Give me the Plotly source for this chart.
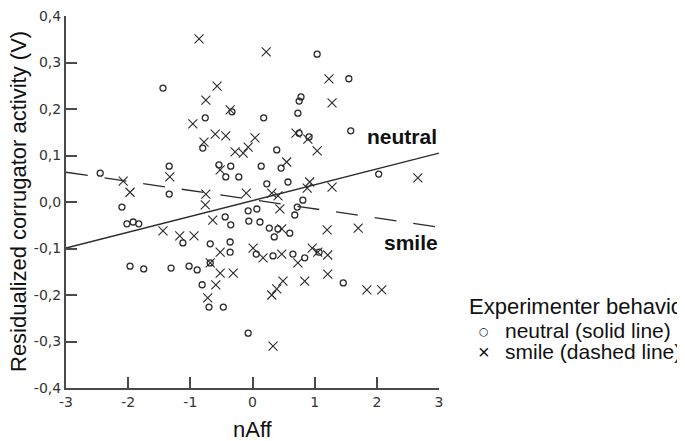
import plotly.graph_objects as go

# ---- data ----
neutral_x = [-2.45, -2.10, -2.02, -1.92, -1.83, -1.97, -1.75, -1.31, -1.02, -0.89,
             -0.81, -0.70, -0.47, -1.12, -0.68, -1.44, -0.76, -0.80, -1.34, -1.34,
             -0.54, -0.35, -0.43, -0.22, 0.14, -0.33, 0.18, 1.04, 1.55, 0.78,
             0.75, 0.73, 1.58, 0.75, 0.91, 0.39, 0.46, 0.23, 0.57, 0.81,
             0.72, 0.68, 2.03, 0.07, -0.07, -0.44, -0.35, -0.06, 0.12, 0.27,
             0.35, 0.41, 0.60, -0.36, -0.36, 0.06, 0.33, 0.65, 0.84, 1.07,
             1.46, -0.07, -0.68]
neutral_y = [0.062, -0.011, -0.047, -0.043, -0.047, -0.138, -0.144, -0.142, -0.138, -0.146,
             -0.178, -0.226, -0.226, -0.088, -0.090, 0.245, 0.181, 0.116, 0.077, 0.017,
             0.080, 0.077, 0.054, 0.054, 0.077, 0.194, 0.181, 0.318, 0.265, 0.226,
             0.217, 0.191, 0.153, 0.148, 0.140, 0.112, 0.073, 0.039, 0.043, 0.004,
             -0.011, -0.028, 0.060, -0.015, -0.019, -0.032, -0.049, -0.041, -0.043, -0.056,
             -0.075, -0.058, -0.067, -0.086, -0.108, -0.112, -0.116, -0.112, -0.120, -0.108,
             -0.174, -0.282, -0.131]

smile_x = [-0.86, 0.22, -0.57, -0.75, -0.36, -0.96, -0.60, -0.43, -0.78, 0.04,
           -0.07, -0.28, -0.15, 1.23, 1.28, 0.70, 0.89, 1.04, 0.55, 0.92,
           1.28, -0.10, 0.31, 0.41, 0.44, -2.08, -1.97, -1.33, -0.52, -0.75,
           -0.76, -0.64, -1.44, -1.17, -0.94, -0.52, 0.01, 0.17, -0.68, -0.52,
           -0.31, -0.59, -0.72, 0.31, 0.39, 0.49, 0.84, 1.21, 1.84, 2.08,
           0.33, 0.73, 1.20, 1.70, 0.47, 0.47, 0.96, 1.05, 1.21, 2.66, 0.88]
smile_y = [0.351, 0.323, 0.249, 0.219, 0.198, 0.168, 0.146, 0.142, 0.129, 0.138,
           0.118, 0.108, 0.105, 0.265, 0.213, 0.148, 0.135, 0.110, 0.086, 0.043,
           0.032, 0.019, 0.019, 0.013, -0.015, 0.045, 0.021, 0.054, 0.069, 0.017,
           -0.006, -0.039, -0.062, -0.073, -0.073, -0.108, -0.099, -0.120, -0.131, -0.153,
           -0.153, -0.178, -0.206, -0.200, -0.187, -0.170, -0.170, -0.155, -0.189, -0.189,
           -0.310, -0.131, -0.060, -0.056, -0.058, -0.112, -0.099, -0.108, -0.114, 0.052, 0.030]

fit_x = [-3, 3]
neutral_fit_y = [-0.099, 0.105]
smile_fit_y = [0.064, -0.054]

x_tickvals = [-3, -2, -1, 0, 1, 2, 3]
x_ticktext = ["-3", "-2", "-1", "0", "1", "2", "3"]
y_tickvals = [0.4, 0.3, 0.2, 0.1, 0.0, -0.1, -0.2, -0.3, -0.4]
y_ticktext = ["0,4", "0,3", "0,2", "0,1", "0,0", "-0,1", "-0,2", "-0,3", "-0,4"]

INK = "#2a2a2a"

fig = go.Figure()
fig.add_trace(go.Scatter(x=neutral_x, y=neutral_y, mode="markers", name="neutral (solid line)",
                         marker=dict(symbol="circle-open", size=6, color=INK, line=dict(width=1.3, color=INK)),
                         showlegend=False))
fig.add_trace(go.Scatter(x=smile_x, y=smile_y, mode="markers", name="smile (dashed line)",
                         marker=dict(symbol="x-thin-open", size=9, color=INK, line=dict(width=1.1, color=INK)),
                         showlegend=False))
fig.add_trace(go.Scatter(x=fit_x, y=neutral_fit_y, mode="lines", line=dict(color=INK, width=1.3),
                         showlegend=False, hoverinfo="skip"))
fig.add_trace(go.Scatter(x=fit_x, y=smile_fit_y, mode="lines",
                         line=dict(color=INK, width=1.3, dash="22px,17px"),
                         showlegend=False, hoverinfo="skip"))

# page has an 8px body margin; positions below are in page pixels
OFF = 8
PL, PR, PT, PB = 66, 439, 16, 388
W, H = 685 - OFF, 441 - OFF
def px(p):
    return (p - PL) / (PR - PL)
def py(q):
    return (PB - q) / (PB - PT)

FONT = "Liberation Sans, Arial, sans-serif"
def ann(x, y, text, size, xanchor="center", family=FONT, xref="paper", yref="paper", **kw):
    return dict(x=x, y=y, xref=xref, yref=yref, text=text, showarrow=False,
                xanchor=xanchor, yanchor="middle",
                font=dict(family=family, size=size, color="#111"), **kw)

annotations = [
    ann(2.40, 0.140, "<b>neutral</b>", 21, xref="x", yref="y"),
    ann(2.55, -0.088, "<b>smile</b>", 21, xref="x", yref="y"),
    ann(px(253), py(430), "nAff", 22),
    ann(px(18), 0.5, "Residualized corrugator activity (V)", 22, textangle=-90),
    ann(px(467), py(306), "Experimenter behavior", 22, xanchor="left"),
    ann(px(484), py(331), "○", 11, family="DejaVu Sans, sans-serif"),
    ann(px(503), py(330), "neutral (solid line)", 21, xanchor="left"),
    ann(px(484), py(352), "×", 20),
    ann(px(503), py(351), "smile (dashed line)", 21, xanchor="left"),
]

axis_common = dict(showline=True, linecolor="#4a4a4a", linewidth=2, ticks="inside", ticklen=11,
                   tickwidth=1.5, tickcolor="#4a4a4a", showgrid=False, zeroline=False,
                   automargin=False, ticklabeloverflow="allow",
                   tickfont=dict(family="DejaVu Sans, sans-serif", size=14, color="#333"))

fig.update_layout(
    width=W, height=H,
    margin=dict(l=PL - OFF, r=W - (PR - OFF), t=PT - OFF, b=H - (PB - OFF), pad=0, autoexpand=False),
    plot_bgcolor="white", paper_bgcolor="white",
    showlegend=False,
    xaxis=dict(range=[-3, 3], tickvals=x_tickvals, ticktext=x_ticktext, **axis_common),
    yaxis=dict(range=[-0.4, 0.4], tickvals=y_tickvals, ticktext=y_ticktext, **axis_common),
    annotations=annotations,
)

fig.write_html("out.html")
